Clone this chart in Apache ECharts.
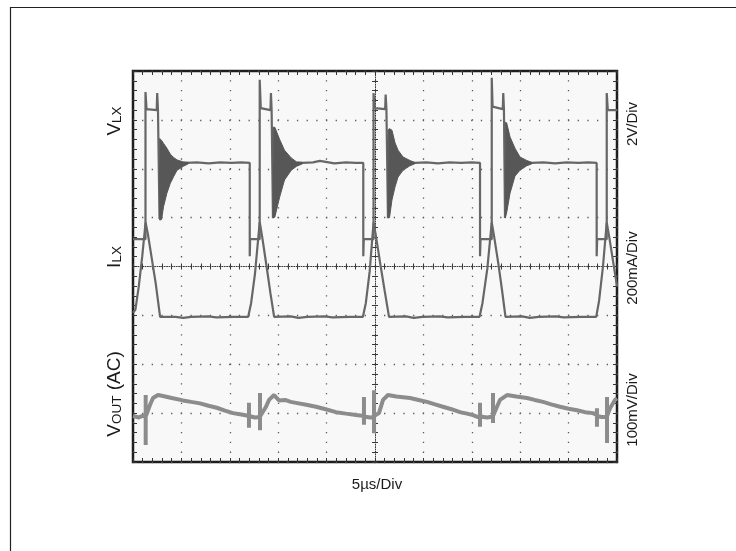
<!DOCTYPE html>
<html>
<head>
<meta charset="utf-8">
<script src="https://cdn.jsdelivr.net/npm/echarts@6.0.0/dist/echarts.min.js"></script>
<style>
  html, body { margin: 0; padding: 0; background: #ffffff; }
  #chart { width: 736px; height: 551px; }
</style>
</head>
<body>
<div id="chart"></div>
<script>
// ---- Data (time in microseconds, amplitude in screen divisions from the bottom) ----
const timeTicks = [0, 5, 10, 15, 20, 25, 30, 35, 40, 45, 50];   // 5 µs/Div
const divTicks = [0, 1, 2, 3, 4, 5, 6, 7, 8];

// V_LX trace (2V/Div)
const vlx = [
  [0, 4.56], [1.29, 4.56], [1.29, 7.57], [1.4, 7.22], [2.45, 7.2], [2.5, 7.55], [2.58, 7.2], [2.74, 7.2], [2.74, 4.97], [2.9, 6.12],
  [5.5, 6.12], [6.6, 6.13], [7.8, 6.11], [9.0, 6.13], [10.2, 6.12], [11.2, 6.13], [12.06, 6.12],
  [12.06, 4.21], [12.1, 4.56], [13.09, 4.56], [13.09, 7.82], [13.2, 7.24], [14.2, 7.2], [14.25, 7.55], [14.32, 7.2], [14.46, 7.2], [14.46, 4.99], [14.6, 6.12],
  [17.5, 6.12], [18.6, 6.13], [19.3, 6.16], [19.4, 6.12], [20.8, 6.11], [22.0, 6.13], [23.0, 6.12], [23.79, 6.12],
  [23.79, 4.21], [23.84, 4.56], [24.85, 4.56], [24.85, 7.55], [24.95, 7.24], [26.05, 7.22], [26.1, 7.52], [26.18, 7.22], [26.34, 7.22], [26.34, 4.99], [26.5, 6.12],
  [29.1, 6.12], [30.3, 6.13], [31.5, 6.11], [32.7, 6.13], [33.9, 6.12], [35.0, 6.13], [35.85, 6.12],
  [35.85, 4.21], [35.9, 4.56], [37.06, 4.56], [37.06, 7.86], [37.15, 7.27], [38.2, 7.22], [38.25, 7.55], [38.32, 7.22], [38.43, 7.22], [38.43, 4.99], [38.6, 6.12],
  [41.2, 6.12], [42.4, 6.13], [43.6, 6.11], [44.8, 6.13], [46.0, 6.12], [47.0, 6.13], [47.9, 6.12],
  [47.9, 4.21], [47.95, 4.56], [48.94, 4.56], [48.94, 7.55], [49.05, 7.2], [50, 7.2]
];

// V_LX ringing envelopes after each switch-off: [t, upper, lower]
const vlxRing1 = [[2.76, 6.62, 4.95], [2.95, 6.58, 4.96], [3.15, 6.52, 5.22], [3.5, 6.42, 5.5], [3.85, 6.3, 5.7], [4.2, 6.23, 5.84], [4.55, 6.18, 5.97], [5.2, 6.14, 6.05], [5.7, 6.13, 6.1]];
const vlxRing2 = [[14.48, 6.85, 5.0], [14.65, 6.85, 5.01], [15.15, 6.6, 5.42], [15.65, 6.38, 5.77], [16.35, 6.22, 5.97], [16.9, 6.14, 6.05], [17.5, 6.13, 6.1]];
const vlxRing3 = [[26.36, 6.8, 5.0], [26.5, 6.82, 5.0], [26.75, 6.79, 5.36], [27.07, 6.53, 5.63], [27.38, 6.38, 5.83], [27.9, 6.24, 5.97], [28.6, 6.17, 6.06], [29.1, 6.13, 6.1]];
const vlxRing4 = [[38.45, 6.95, 5.0], [38.6, 6.94, 5.1], [38.95, 6.65, 5.5], [39.46, 6.42, 5.85], [39.98, 6.24, 5.97], [40.67, 6.17, 6.06], [41.2, 6.13, 6.1]];

// I_LX trace (200mA/Div)
const ilx = [
  [0.0, 3.05], [0.25, 3.12], [0.6, 3.6], [0.95, 4.2], [1.3, 4.9],
  [1.55, 4.65], [1.95, 4.15], [2.35, 3.65], [2.8, 2.97],
  [4.4, 2.97], [5.2, 2.95], [6.0, 2.97], [7.8, 2.98], [8.6, 2.96], [10.4, 2.97], [11.9, 2.97],
  [12.2, 3.25], [12.6, 3.85], [13.09, 4.91],
  [13.35, 4.6], [13.8, 4.0], [14.2, 3.45], [14.58, 2.97],
  [16.3, 2.98], [17.1, 2.95], [18.0, 2.97], [19.8, 2.98], [20.6, 2.96], [22.4, 2.97], [23.75, 2.97],
  [24.05, 3.25], [24.45, 3.9], [24.85, 4.9],
  [25.1, 4.62], [25.55, 4.05], [26.0, 3.5], [26.45, 2.97],
  [28.2, 2.98], [29.0, 2.95], [29.9, 2.97], [31.7, 2.98], [32.5, 2.96], [34.3, 2.97], [35.8, 2.97],
  [36.1, 3.25], [36.6, 3.95], [37.06, 4.9],
  [37.3, 4.62], [37.75, 4.05], [38.1, 3.55], [38.48, 2.97],
  [40.2, 2.98], [41.0, 2.95], [41.9, 2.97], [43.7, 2.98], [44.5, 2.96], [46.3, 2.97], [47.85, 2.97],
  [48.15, 3.3], [48.55, 4.0], [48.94, 4.9],
  [49.2, 4.6], [49.6, 4.1], [50, 3.6]
];

// V_OUT (AC) trace (100mV/Div)
const vout = [
  [0, 0.94], [0.6, 0.91], [1.03, 0.95], [1.31, 0.92], [1.31, 1.37], [1.31, 0.35], [1.31, 0.93], [1.45, 1.0], [1.76, 1.17], [2.07, 1.31], [2.58, 1.37], [3.1, 1.35],
  [4.0, 1.31], [5.17, 1.26], [6.0, 1.23], [6.92, 1.2], [7.8, 1.15], [8.65, 1.11], [9.5, 1.05], [10.33, 1.0], [11.2, 0.97], [11.75, 0.95],
  [11.98, 0.94], [11.98, 1.21], [11.98, 0.70], [11.98, 0.94], [12.6, 0.91], [13.12, 0.92], [13.12, 1.41], [13.12, 0.65], [13.12, 0.93],
  [13.74, 1.13], [14.05, 1.27], [14.57, 1.37], [15.08, 1.26], [15.7, 1.27], [16.3, 1.23], [16.84, 1.21], [17.9, 1.17], [18.91, 1.13], [19.9, 1.08], [20.97, 1.02], [22.0, 0.99], [23.04, 0.96],
  [23.86, 0.94], [23.86, 1.33], [23.86, 0.76], [23.86, 0.93], [24.5, 0.91], [24.9, 0.92], [24.9, 1.47], [24.9, 0.59], [24.9, 0.94],
  [25.41, 1.0], [25.83, 1.27], [26.34, 1.37], [27.2, 1.34], [28.62, 1.31], [29.5, 1.27], [30.37, 1.23], [31.2, 1.18], [32.02, 1.13], [32.9, 1.08], [33.78, 1.02], [34.5, 0.99], [35.12, 0.96], [35.64, 0.92],
  [35.85, 0.93], [35.85, 1.21], [35.85, 0.72], [35.85, 0.93], [36.6, 0.91], [37.19, 0.93], [37.19, 1.41], [37.19, 0.80], [37.19, 0.94],
  [37.6, 1.13], [37.91, 1.27], [38.64, 1.37], [39.6, 1.34], [40.7, 1.31], [41.5, 1.27], [42.36, 1.23], [43.2, 1.18], [44.11, 1.13], [45.0, 1.09], [45.87, 1.06], [46.7, 1.02], [47.52, 1.0],
  [47.93, 0.96], [47.93, 1.1], [47.93, 0.72], [47.93, 0.94], [48.4, 0.92], [48.97, 0.92], [48.97, 1.33], [48.97, 0.39], [48.97, 0.94],
  [49.28, 1.10], [49.79, 1.27], [50, 1.3]
];

// Channel labels and scale texts
const leftLabels = [
  { text: '{b|V}{s|LX}', y: 121 },
  { text: '{b|I}{s|LX}', y: 257 },
  { text: '{b|V}{s|OUT}{b| (AC)}', y: 394 }
];
const rightLabels = [
  { text: '2V/Div', y: 124 },
  { text: '200mA/Div', y: 268 },
  { text: '100mV/Div', y: 410 }
];
const timeLabel = '5µs/Div';

// ---- Chart ----
const FONT = '"Liberation Sans", Arial, Helvetica, sans-serif';
const TEXT_COLOR = '#1a1a1a';
const chart = echarts.init(document.getElementById('chart'), null, { renderer: 'canvas' });

function edgeAxis(dim, position, opts) {
  const isX = dim === 'x';
  const ticks = isX ? timeTicks : divTicks;
  return Object.assign({
    type: 'value',
    position: position,
    min: ticks[0],
    max: ticks[ticks.length - 1],
    interval: ticks[1] - ticks[0],
    axisLine: { show: false, onZero: false },
    axisTick: { show: true, inside: true, length: 4, lineStyle: { color: '#333', width: 1 } },
    minorTick: { show: true, splitNumber: 5, length: 4, lineStyle: { color: '#333', width: 1 } },
    axisLabel: { show: false },
    splitLine: { show: false },
    minorSplitLine: { show: false }
  }, opts || {});
}

const gridDots = (len) => ({
  show: true,
  lineStyle: { color: '#5a5a5a', width: 1.3, type: [1.3, len / 5 - 1.3], dashOffset: 0.65 }
});

const centerLine = { show: true, onZero: false, lineStyle: { color: '#3a3a3a', width: 1, type: [1, 1.4] } };
const centerTick = (inside) => ({ show: true, inside: inside, length: 3, lineStyle: { color: '#3a3a3a', width: 1 } });
const centerMinor = { show: true, splitNumber: 5, length: 3, lineStyle: { color: '#3a3a3a', width: 1 } };

const xAxes = [
  edgeAxis('x', 'bottom', { splitLine: gridDots(391 / 8) }),
  edgeAxis('x', 'top'),
  edgeAxis('x', 'bottom', { offset: -195.5, axisLine: centerLine, axisTick: centerTick(true), minorTick: centerMinor }),
  edgeAxis('x', 'bottom', { offset: -195.5, axisTick: centerTick(false), minorTick: centerMinor })
];
const yAxes = [
  edgeAxis('y', 'left', { splitLine: gridDots(484 / 10) }),
  edgeAxis('y', 'right'),
  edgeAxis('y', 'left', { offset: -242, axisLine: centerLine, axisTick: centerTick(true), minorTick: centerMinor }),
  edgeAxis('y', 'left', { offset: -242, axisTick: centerTick(false), minorTick: centerMinor })
];

const rings = [vlxRing1, vlxRing2, vlxRing3, vlxRing4];

function richStyle() {
  return {
    b: { fontSize: 19, lineHeight: 19, fontFamily: FONT, fill: TEXT_COLOR, verticalAlign: 'bottom' },
    s: { fontSize: 13.5, lineHeight: 13.5, fontFamily: FONT, fill: TEXT_COLOR, verticalAlign: 'bottom' }
  };
}

const graphics = [
  { type: 'rect', z: -10, silent: true, shape: { x: 10.5, y: 7.5, width: 900, height: 900 },
    style: { fill: 'none', stroke: '#222', lineWidth: 1.2 } }
];
leftLabels.forEach(l => graphics.push({
  type: 'text', x: 115, y: l.y, rotation: Math.PI / 2, silent: true,
  style: { text: l.text, rich: richStyle(), align: 'center', verticalAlign: 'middle',
           fontFamily: FONT, fontSize: 19, fill: TEXT_COLOR }
}));
rightLabels.forEach(l => graphics.push({
  type: 'text', x: 633, y: l.y, rotation: Math.PI / 2, silent: true,
  style: { text: l.text, align: 'center', verticalAlign: 'middle', fontFamily: FONT, fontSize: 15, fill: TEXT_COLOR }
}));
graphics.push({
  type: 'text', x: 377, y: 485, silent: true,
  style: { text: timeLabel, align: 'center', verticalAlign: 'middle', fontFamily: FONT, fontSize: 15, fill: TEXT_COLOR }
});

const option = {
  animation: false,
  backgroundColor: '#ffffff',
  grid: {
    left: 133, top: 71, width: 484, height: 391,
    show: true, backgroundColor: '#f8f8f8', borderColor: '#1e1e1e', borderWidth: 2.5,
    containLabel: false, outerBoundsMode: 'none'
  },
  xAxis: xAxes,
  yAxis: yAxes,
  series: [
    { name: 'VOUT', type: 'line', data: vout, showSymbol: false, symbol: 'none', silent: true, z: 3,
      lineStyle: { color: '#8c8c8c', width: 4 } },
    { name: 'ILX', type: 'line', data: ilx, showSymbol: false, symbol: 'none', silent: true, z: 4,
      lineStyle: { color: '#676767', width: 2.2 } },
    { name: 'VLX', type: 'line', data: vlx, showSymbol: false, symbol: 'none', silent: true, z: 5,
      lineStyle: { color: '#676767', width: 2.2 } },
    { name: 'VLX ringing', type: 'custom', coordinateSystem: 'cartesian2d', silent: true, z: 6,
      data: rings.map(r => [r[0][0], r[0][1]]),
      renderItem: function (params, api) {
        const ring = rings[params.dataIndex];
        const upper = ring.map(r => api.coord([r[0], r[1]]));
        const lower = ring.slice().reverse().map(r => api.coord([r[0], r[2]]));
        return { type: 'polygon', shape: { points: upper.concat(lower) },
                 style: { fill: '#575757', stroke: '#575757', lineWidth: 1 } };
      } }
  ],
  graphic: graphics
};
chart.setOption(option);
</script>
</body>
</html>
